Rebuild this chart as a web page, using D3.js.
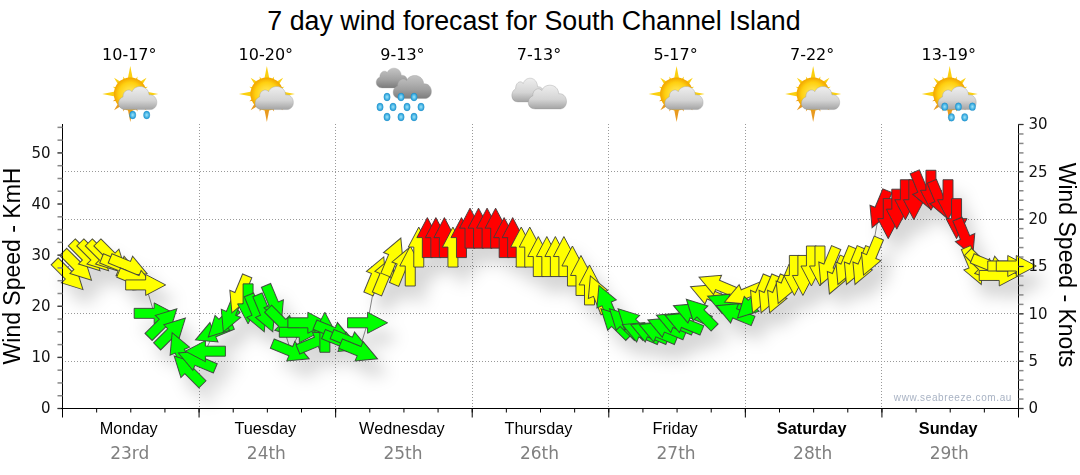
<!DOCTYPE html>
<html><head><meta charset="utf-8">
<script src="https://cdnjs.cloudflare.com/ajax/libs/d3/7.8.5/d3.min.js"></script>
<style>html,body{margin:0;padding:0;background:#fff}svg{display:block}</style>
</head><body><div id="c"></div>
<script>
const dayNames=["Monday","Tuesday","Wednesday","Thursday","Friday","Saturday","Sunday"];
const dayDates=["23rd","24th","25th","26th","27th","28th","29th"];
const weekendFlags=[0,0,0,0,0,1,1];
const tempRanges=["10-17°","10-20°","9-13°","7-13°","5-17°","7-22°","13-19°"];
const iconKinds=["sunShower","sunCloud","rain","cloud","sunCloud","sunCloud","sunRain"];
const hours=[1.2,2.7,4.2,5.7,7.2,8.7,10.2,11.7,13.2,14.7,16.2,17.7,19.2,20.7,22.2,23.7,
25.2,26.7,28.2,29.7,31.2,32.7,34.2,35.7,37.2,38.7,40.2,41.7,43.2,44.7,46.2,47.7,
49.2,50.7,52.2,53.7,55.2,56.7,58.2,59.7,61.2,62.7,64.2,65.7,67.2,68.7,70.2,71.7,
73.2,74.7,76.2,77.7,79.2,80.7,82.2,83.7,85.2,86.7,88.2,89.7,91.2,92.7,94.2,95.7,
97.2,98.7,100.2,101.7,103.2,104.7,106.2,107.7,109.2,110.7,112.2,113.7,115.2,116.7,118.2,119.7,
121.2,122.7,124.2,125.7,127.2,128.7,130.2,131.7,133.2,134.7,136.2,137.7,139.2,140.7,142.2,143.7,
145.2,146.7,148.2,149.7,151.2,152.7,154.2,155.7,157.2,158.7,160.2,161.7,163.2,164.7,166.2,167.7];
const knots=[14,15,16,16,16,16,15,15,13.5,13,10,9,8,6,4,5,
6,8,9,10,12,11,10,10,11,9,6,8,9,7,8,8,
7,7,6,9,14,14,16,15,15,17,18,18,18,17,18,19,
19,19,19,18,18,17,17,16,16,16,16,15,14,13,12,11,
9,9,9,8,8,8,8.5,9,9,10,10,12,13,11,10,12,
11,12,12,12,13,14,14,15,15,15,14,15,15,15,16,21,
20,21,22,22,23,23,22,22,20,18,15,15,15,14,15,15];
const bearings=[135,135,135,135,135,135,112.5,112.5,112.5,90,90,45,45,337.5,315,292.5,
270,247.5,225,202.5,202.5,180,157.5,157.5,157.5,135,112.5,90,90,67.5,0,112.5,
112.5,112.5,112.5,90,22.5,22.5,22.5,22.5,0,0,0,0,0,0,0,0,
0,0,0,0,0,0,0,0,0,0,0,0,0,0,337.5,337.5,
315,315,315,292.5,292.5,292.5,292.5,292.5,292.5,292.5,315,292.5,292.5,292.5,292.5,247.5,
225,202.5,202.5,202.5,202.5,180,180,180,180,202.5,202.5,202.5,202.5,202.5,202.5,202.5,
180,180,180,180,157.5,180,157.5,180,180,157.5,157.5,135,112.5,90,90,90];
const kmhTicks=[0,10,20,30,40,50];
const knotTicks=[0,5,10,15,20,25,30];
const gridKnots=[5,10,15,20,25];
const speedBands=[12,18];
const bandColors=["#00ff00","#ffff00","#ff0000"];

const W=1080,H=475,L=62,R=1018,B=408,T=124;
const svg=d3.select("#c").append("svg").attr("width",W).attr("height",H);
const defs=svg.append("defs");
const x=d3.scaleLinear().domain([0,168]).range([L,R]);
const yK=d3.scaleLinear().domain([0,30]).range([B,T]);
const yM=d3.scaleLinear().domain([0,30*1.852]).range([B,T]);
const col=d3.scaleThreshold().domain(speedBands).range(bandColors);
const sans="'Liberation Sans',Arial,sans-serif", taho="'DejaVu Sans',Verdana,sans-serif";

const f=defs.append("filter").attr("id","sh").attr("x","-10%").attr("y","-20%").attr("width","120%").attr("height","150%");
f.append("feDropShadow").attr("dx",10).attr("dy",15).attr("stdDeviation",8).attr("flood-color","#000").attr("flood-opacity",.16);
function grad(id,stops,radial){const g=defs.append(radial?"radialGradient":"linearGradient").attr("id",id);
 if(!radial)g.attr("x1",0).attr("x2",0).attr("y1",0).attr("y2",1);
 stops.forEach(s=>g.append("stop").attr("offset",s[0]).attr("stop-color",s[1]));}
grad("cl",[[0,"#eeeeee"],[.6,"#d4d4d4"],[1,"#a4a4a4"]]);
grad("cd",[[0,"#c4c4c4"],[.6,"#a0a0a0"],[1,"#7c7c7c"]]);
grad("su",[[0,"#ffee70"],[.7,"#ffd010"],[1,"#f2a400"]],true);
grad("dr",[[0,"#9fe6fa"],[1,"#1a98d8"]],true);

svg.append("g").selectAll("line").data(gridKnots).join("line")
 .attr("x1",L).attr("x2",R).attr("y1",d=>Math.round(yK(d))+.5).attr("y2",d=>Math.round(yK(d))+.5)
 .attr("stroke","#999").attr("stroke-dasharray","1,2");
svg.append("g").selectAll("line").data(d3.range(1,7)).join("line")
 .attr("x1",d=>Math.round(x(d*24))+.5).attr("x2",d=>Math.round(x(d*24))+.5).attr("y1",T).attr("y2",B)
 .attr("stroke","#999").attr("stroke-dasharray","1,2");

const pts=hours.map((h,i)=>({h,k:knots[i],b:bearings[i]}));
svg.append("path").attr("fill","none").attr("stroke","#888")
 .attr("d",d3.line().x(d=>x(d.h)).y(d=>yK(d.k))(pts));

const arrowShape=[[-20,-5],[0,-5],[0,-10.5],[20,0],[0,10.5],[0,5],[-20,5]];
const arrowPath=d3.line()(arrowShape)+"Z";
svg.append("g").attr("filter","url(#sh)").selectAll("path").data(pts).join("path")
 .attr("d",arrowPath).attr("fill",d=>col(d.k)).attr("stroke","#3c3c3c").attr("stroke-opacity",.9).attr("stroke-width",1)
 .attr("transform",d=>`translate(${x(d.h)},${yK(d.k)}) rotate(${d.b-90})`);

const aL=svg.append("g").attr("transform",`translate(${L+.5},0)`);
aL.call(d3.axisLeft(yM).tickValues(d3.range(0,55.6,2.5)).tickSize(5).tickFormat(""));
aL.selectAll("line").attr("stroke","#888").attr("stroke-width",1.5);
aL.select(".domain").attr("stroke","#000").attr("d",`M0,${T}V${B}`);
const aLm=svg.append("g").attr("transform",`translate(${L+.5},0)`);
aLm.call(d3.axisLeft(yM).tickValues(kmhTicks).tickSize(5).tickPadding(7));
aLm.select(".domain").remove();aLm.selectAll("line").attr("stroke","#333");
aLm.selectAll("text").attr("font-family",taho).attr("font-size",15).attr("fill","#111");

const aR=svg.append("g").attr("transform",`translate(${R+.5},0)`);
aR.call(d3.axisRight(yK).tickValues(d3.range(0,31)).tickSize(5).tickFormat(""));
aR.selectAll("line").attr("stroke","#888").attr("stroke-width",1.5);
aR.select(".domain").attr("stroke","#000").attr("d",`M0,${T}V${B}`);
const aRm=svg.append("g").attr("transform",`translate(${R+.5},0)`);
aRm.call(d3.axisRight(yK).tickValues(knotTicks).tickSize(5).tickPadding(5));
aRm.select(".domain").remove();aRm.selectAll("line").attr("stroke","#333");
aRm.selectAll("text").attr("font-family",taho).attr("font-size",15).attr("fill","#111");

const aB=svg.append("g").attr("transform",`translate(0,${B+.5})`);
aB.call(d3.axisBottom(x).tickValues(d3.range(0,169,6)).tickSize(4).tickFormat(""));
aB.selectAll("line").attr("stroke","#000");
aB.select(".domain").attr("stroke","#000").attr("d",`M${L-1},0H${R+1}`);
const aBm=svg.append("g").attr("transform",`translate(0,${B+.5})`);
aBm.call(d3.axisBottom(x).tickValues(d3.range(0,169,24)).tickSize(9).tickFormat(""));
aBm.select(".domain").remove();aBm.selectAll("line").attr("stroke","#000");

svg.append("text").attr("x",534).attr("y",29.5).attr("text-anchor","middle").attr("font-family",sans).attr("font-size",26.8).attr("fill","#000").text("7 day wind forecast for South Channel Island");
svg.append("text").attr("transform","translate(20,266) rotate(-90)").attr("text-anchor","middle").attr("font-family",sans).attr("font-size",23).text("Wind Speed - KmH");
svg.append("text").attr("transform","translate(1059,265) rotate(90)").attr("text-anchor","middle").attr("font-family",sans).attr("font-size",23).text("Wind Speed - Knots");
svg.append("text").attr("x",1012).attr("y",401).attr("text-anchor","end").attr("font-family",sans).attr("font-size",10).attr("letter-spacing",.6).attr("fill","#a9b3c4").text("www.seabreeze.com.au");
const dayC=d3.range(7).map(i=>x(i*24+12));
svg.append("g").selectAll("text").data(dayNames).join("text").attr("x",(d,i)=>dayC[i]-1.5).attr("y",434).attr("text-anchor","middle")
 .attr("font-family",sans).attr("font-size",16.3).attr("font-weight",(d,i)=>weekendFlags[i]?"700":"400").attr("fill","#000").text(d=>d);
svg.append("g").selectAll("text").data(dayDates).join("text").attr("x",(d,i)=>dayC[i]-.5).attr("y",459).attr("text-anchor","middle")
 .attr("font-family",taho).attr("font-size",17).attr("fill","#808080").text(d=>d);
svg.append("g").selectAll("text").data(tempRanges).join("text").attr("x",(d,i)=>dayC[i]-1).attr("y",60).attr("text-anchor","middle")
 .attr("font-family",taho).attr("font-size",16).attr("fill","#000").text(d=>d);

const cloudPath=(g,dx,dy,sx,sy,fill)=>{const c=g.append("g").attr("transform",`translate(${dx},${dy}) scale(${sx},${sy})`);
 c.append("path").attr("d","M-14,11 C-24,11 -24,1 -17,-1 C-17,-8 -9,-9 -7,-6 C-4,-13 11,-13 12,-3 C22,-4 24,10 14,11 Z").attr("fill",fill).attr("stroke","#9a9a9a").attr("stroke-width",.4);};
function sun(g,cx,cy){
 const rays=d3.range(16).map(i=>i*22.5);
 g.append("g").selectAll("path").data(rays).join("path")
  .attr("d",d=>{const L2=(d%90===0)?28:(d%45===0?23:19);return `M-5.5,0L0,${-L2}L5.5,0Z`;})
  .attr("fill",(d,i)=>d>110&&d<250?"#e89a20":"#fbd010").attr("transform",d=>`translate(${cx},${cy}) rotate(${d})`);
 g.append("circle").attr("cx",cx).attr("cy",cy).attr("r",16.5).attr("fill","url(#su)");
}
function drop(g,cx,cy){g.append("ellipse").attr("cx",cx).attr("cy",cy).attr("rx",3.2).attr("ry",3.9).attr("fill","url(#dr)").attr("stroke","#2a88b8").attr("stroke-width",.3);}
const icons=svg.append("g");
iconKinds.forEach((k,i)=>{
 const g=icons.append("g").attr("transform",`translate(${dayC[i]},0)`);
 if(k.startsWith("sun")){
  sun(g,0,94);
  if(k==="sunShower"){drop(g,2.4,115);drop(g,16.4,115);}
  cloudPath(g,8,98,.9,1.05,"url(#cl)");
  if(k==="sunRain"){[-5,8.7,22.7].forEach(d=>drop(g,d,106.7));[1.7,15].forEach(d=>drop(g,d,117.3));}
 } else if(k==="rain"){
  cloudPath(g,-11,78,.74,.9,"url(#cd)");
  cloudPath(g,9.5,87,.9,1.05,"url(#cd)");
  [-16.4,-2.4,10.6].forEach(d=>drop(g,d,97));
  [-23.4,-10.4,3.6,17.6].forEach(d=>drop(g,d,107));
  [-16.4,-2.4,10.6].forEach(d=>drop(g,d,117));
 } else {
  cloudPath(g,-11.5,90,.76,1.08,"url(#cl)");
  cloudPath(g,8,97,.9,1.08,"url(#cl)");
 }
});
</script></body></html>
